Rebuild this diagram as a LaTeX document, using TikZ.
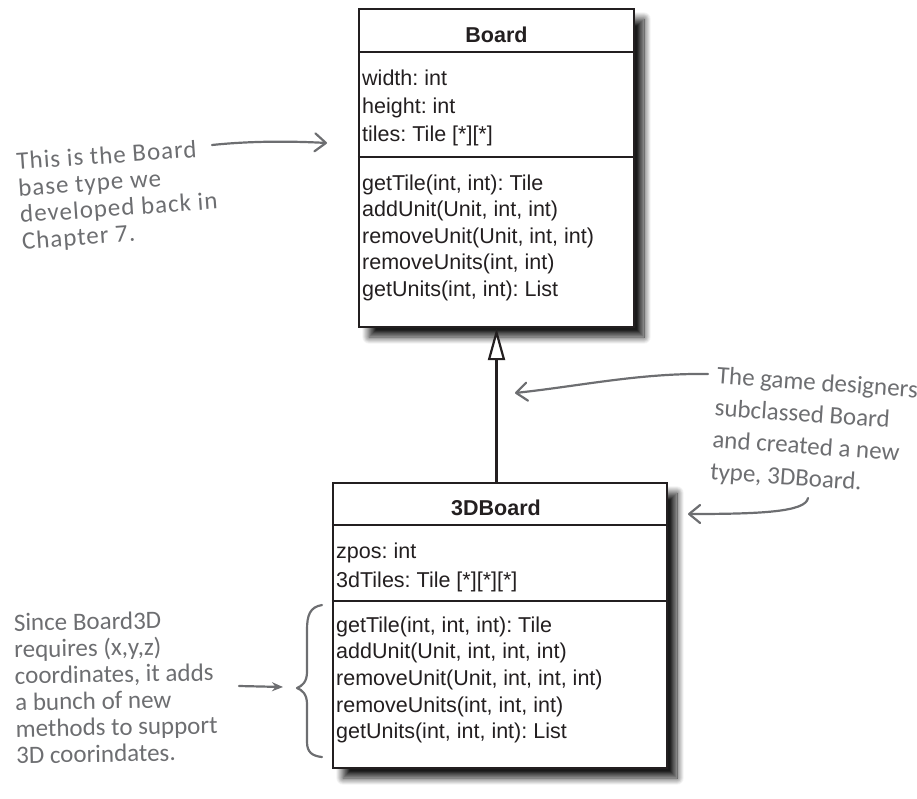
\documentclass[tikz,border=0pt]{standalone}
\usepackage{fontspec}
\setmainfont{Liberation Sans}
\newfontfamily\handfont{Carlito}
\newfontfamily\handwide[LetterSpace=4]{Carlito}
\usetikzlibrary{arrows.meta,shadows.blur}

\definecolor{umlink}{HTML}{231F20}
\definecolor{notegray}{HTML}{6D6E71}

\begin{document}
\frenchspacing
\begin{tikzpicture}[x=1pt,y=-1pt,
  umlbox/.style={draw=umlink, line width=2.4pt, fill=white, inner sep=0pt,
    blur shadow={shadow xshift=10pt, shadow yshift=-10pt, shadow blur radius=7pt,
      shadow blur steps=20, shadow opacity=90}},
  sepline/.style={draw=umlink, line width=2.2pt},
  umltitle/.style={anchor=base, font=\fontsize{21.5}{24}\selectfont\bfseries, text=umlink, inner sep=0pt},
  member/.style={anchor=base west, font=\fontsize{21.5}{24}\selectfont, text=umlink, inner sep=0pt},
  note/.style={font=\handfont\fontsize{25}{26.5}\selectfont, text=notegray, align=left, inner sep=0pt},
  notearrow/.style={draw=notegray, line width=2.2pt, line cap=round, line join=round},
  barb/.style={-{Straight Barb[length=11pt,width=18pt,round]}},
  inherit/.style={draw=umlink, line width=2.4pt, -{Triangle[length=32pt,width=17pt,fill=white,line width=2.2pt]}}
]
\useasboundingbox (0,0) rectangle (917,798);

% ---------- Board ----------
\node[umlbox, minimum width=275pt, minimum height=318pt] (board) at (496.5,168) {};
\draw[sepline] (board.west |- 0,52) -- (board.east |- 0,52);
\draw[sepline] (board.west |- 0,157) -- (board.east |- 0,157);
\node[umltitle] (boardtitle) at (496.5,42) {Board};
\node[member] (b1) at (362,85) {width: int};
\node[member] (b2) at (362,113) {height: int};
\node[member] (b3) at (362,141) {tiles: Tile [*][*]};
\node[member] (b4) at (362,190) {getTile(int, int): Tile};
\node[member] (b5) at (362,216.5) {addUnit(Unit, int, int)};
\node[member] (b6) at (362,243) {removeUnit(Unit, int, int)};
\node[member] (b7) at (362,269.5) {removeUnits(int, int)};
\node[member] (b8) at (362,296) {getUnits(int, int): List};

% ---------- 3DBoard ----------
\node[umlbox, minimum width=334pt, minimum height=285pt] (sub) at (500,625.5) {};
\draw[sepline] (sub.west |- 0,525) -- (sub.east |- 0,525);
\draw[sepline] (sub.west |- 0,601) -- (sub.east |- 0,601);
\node[umltitle] (subtitle) at (496,515) {3DBoard};
\node[member] (s1) at (336,558) {zpos: int};
\node[member] (s2) at (336,587) {3dTiles: Tile [*][*][*]};
\node[member] (s3) at (336,632) {getTile(int, int, int): Tile};
\node[member] (s4) at (336,658.7) {addUnit(Unit, int, int, int)};
\node[member] (s5) at (336,685.4) {removeUnit(Unit, int, int, int)};
\node[member] (s6) at (336,712.1) {removeUnits(int, int, int)};
\node[member] (s7) at (336,738.8) {getUnits(int, int, int): List};

% ---------- inheritance ----------
\draw[inherit] (board.south |- sub.north) -- (board.south);

% ---------- notes ----------
\node[note, rotate=4, font=\handwide\fontsize{25}{26.5}\selectfont] (note1) at (118,196)
  {This is the Board\\base type we\\developed back in\\Chapter 7.};
\node[note, rotate=-4, font=\handfont\fontsize{25}{32}\selectfont] (note2) at (814,432)
  {The game designers\\subclassed Board\\and created a new\\type, 3DBoard.};
\node[note, rotate=1] (note3) at (116,687) {Since Board3D\\requires (x,y,z)\\coordinates, it adds\\a bunch of new\\methods to support\\3D coorindates.};

\coordinate (a1s) at (212,145);
\coordinate (a1e) at (327,143);
\coordinate (a2s) at (708,374);
\coordinate (a2e) at (515,393);
\coordinate (a3s) at (808,498);
\coordinate (a3e) at (688,514);
\coordinate (a4s) at (239,686);
\coordinate (a4e) at (283,687);

\draw[notearrow, barb] (a1s) .. controls (250,141) and (290,141) .. (a1e);
\draw[notearrow, barb] (a2s) .. controls (640,373) and (580,386) .. (a2e);
\draw[notearrow, barb] (a3s) .. controls (806,512) and (760,514) .. (a3e);
\draw[notearrow, -{Stealth[length=11pt,width=9pt]}] (a4s) -- (a4e);

% brace
\draw[notearrow] (322,605) .. controls (310,607) and (307,615) .. (307,630) -- (307,672)
  .. controls (307,682) and (302,686) .. (297,688)
  .. controls (302,690) and (307,694) .. (307,704) -- (307,742)
  .. controls (307,752) and (312,756) .. (322,757);
\end{tikzpicture}
\end{document}
